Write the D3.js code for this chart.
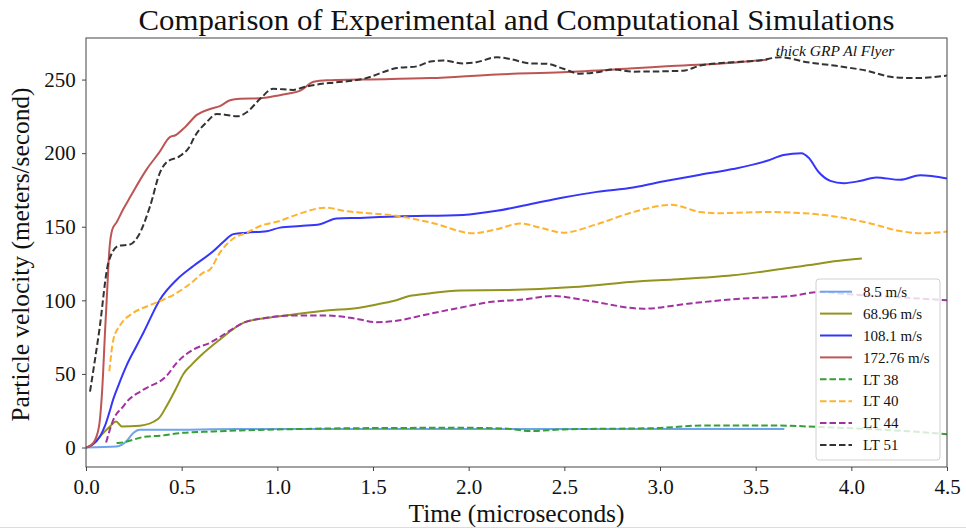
<!DOCTYPE html>
<html>
<head>
<meta charset="utf-8">
<script src="https://cdn.jsdelivr.net/npm/d3@7"></script>
<style>
html,body{margin:0;padding:0;background:#fff;}
svg{display:block;}
text{font-family:"Liberation Serif","DejaVu Serif",serif;fill:#111;}
</style>
</head>
<body>
<svg id="chart" width="966" height="529"></svg>
<script>
// ---------- data ----------
const seriesNames = ["8.5 m/s","68.96 m/s","108.1 m/s","172.76 m/s","LT 38","LT 40","LT 44","LT 51"];
const seriesColors = ["#6ea3ee","#93931f","#3535fb","#bd5555","#35a035","#ffb22e","#a232a2","#333333"];
const seriesDashed = [false,false,false,false,true,true,true,true];

const t_85   = [0, 0.16, 0.21, 0.247, 0.282, 0.4, 0.805, 1.5, 2.5, 3.65];
const v_85   = [0, 0.7, 4, 9.8, 12, 12, 12.5, 12.5, 12.5, 12.5];

const t_6896 = [0, 0.03, 0.073, 0.125, 0.157, 0.187, 0.282, 0.378, 0.42, 0.474, 0.509, 0.55, 0.596, 0.70, 0.822, 0.945, 1.084, 1.258, 1.43, 1.52, 1.606, 1.69, 1.78, 1.955, 2.2, 2.547, 2.896, 3.07, 3.38, 3.506, 3.68, 3.837, 3.91, 4.055];
const v_6896 = [0, 1.5, 7.5, 14.3, 17.7, 14.3, 14.8, 19.5, 27.9, 41, 50, 56, 62, 73.4, 84.7, 88.1, 90.4, 93.1, 95, 97.2, 99.5, 102.9, 104.5, 106.7, 107, 109, 113, 114.2, 117, 119, 122.2, 125, 126.5, 128.5];

const t_1081 = [0, 0.03, 0.073, 0.1, 0.12, 0.143, 0.169, 0.19, 0.213, 0.26, 0.30, 0.387, 0.474, 0.561, 0.666, 0.72, 0.77, 0.84, 0.945, 1.014, 1.12, 1.223, 1.31, 1.43, 1.62, 1.97, 2.147, 2.32, 2.495, 2.67, 2.86, 3.035, 3.21, 3.38, 3.56, 3.645, 3.74, 3.776, 3.83, 3.89, 3.96, 4.05, 4.13, 4.255, 4.36, 4.5];
const v_1081 = [0, 1.5, 7.5, 15, 23, 33, 42, 49, 56, 68, 78, 100.6, 114, 123.3, 133.5, 140, 145, 146, 147, 149.4, 150.5, 151.7, 155.6, 156, 157, 158, 160.8, 165.3, 169.9, 173.7, 176.7, 181.2, 185.3, 189.2, 194.8, 198.7, 200, 197, 187, 181.2, 179.6, 181.2, 183.5, 181.9, 185, 182.8];

const t_17276 = [0, 0.03, 0.047, 0.07, 0.085, 0.1, 0.11, 0.122, 0.137, 0.16, 0.195, 0.23, 0.317, 0.38, 0.44, 0.465, 0.52, 0.579, 0.648, 0.70, 0.753, 0.805, 0.91, 0.997, 1.06, 1.12, 1.19, 1.26, 1.43, 1.80, 2.147, 2.49, 2.84, 3.035, 3.38, 3.56];
const v_17276 = [0, 2, 5, 16, 40, 80, 105, 134, 148, 153, 162, 170, 189, 200, 211, 212, 218, 226, 230, 232, 236, 237, 237.3, 239, 240.5, 242.5, 248.5, 249.5, 250, 251, 253.5, 255, 257.5, 259, 261.5, 263.5];

const t_LT38 = [0.16, 0.178, 0.317, 0.387, 0.49, 0.666, 0.805, 1.084, 1.5, 1.955, 2.2, 2.32, 2.5, 2.98, 3.24, 3.59, 3.84, 4.1, 4.3, 4.5];
const v_LT38 = [3, 3.2, 7.5, 8, 9.8, 10.9, 11.6, 12.5, 13.2, 13.4, 12.8, 11.2, 12.3, 13.2, 15, 15, 13.9, 12.5, 11, 9];

const t_LT40 = [0.122, 0.143, 0.178, 0.247, 0.32, 0.387, 0.474, 0.561, 0.613, 0.648, 0.70, 0.77, 0.84, 0.91, 1.014, 1.084, 1.258, 1.345, 1.43, 1.624, 1.8, 2.025, 2.147, 2.27, 2.373, 2.495, 2.67, 2.86, 3.06, 3.21, 3.297, 3.56, 3.82, 4.08, 4.255, 4.36, 4.5];
const v_LT40 = [51.8, 73.4, 83, 91.5, 96, 99.5, 105, 113, 118.8, 121, 132.4, 142, 146, 150.5, 154, 157.4, 163, 160.8, 159.7, 157.4, 152.9, 145.6, 148.3, 152.2, 149.4, 146, 151.7, 160, 164.9, 160, 159.2, 160, 158.5, 152.9, 147.1, 145.6, 146.7];

const t_LT44 = [0.105, 0.143, 0.195, 0.213, 0.30, 0.42, 0.474, 0.561, 0.648, 0.735, 0.822, 0.945, 1.084, 1.258, 1.38, 1.43, 1.52, 1.606, 1.78, 1.955, 2.11, 2.286, 2.44, 2.635, 2.913, 3.157, 3.419, 3.68, 3.837, 4.0, 4.2, 4.5];
const v_LT44 = [3.4, 18.9, 28, 31, 39.3, 48.5, 57.5, 66.6, 71.1, 78, 84.7, 88.1, 89.7, 89.7, 88.1, 87, 85.1, 85.8, 90.4, 95, 98.8, 100.6, 102.9, 99.5, 94.3, 97.9, 101.1, 102.9, 105.6, 104, 102.5, 100];

const t_LT51 = [0.021, 0.07, 0.117, 0.169, 0.23, 0.273, 0.335, 0.387, 0.42, 0.49, 0.544, 0.561, 0.63, 0.683, 0.735, 0.788, 0.84, 0.91, 0.978, 1.084, 1.136, 1.223, 1.3, 1.45, 1.624, 1.73, 1.80, 1.868, 1.97, 2.04, 2.147, 2.216, 2.32, 2.41, 2.495, 2.58, 2.67, 2.757, 2.86, 3.12, 3.21, 3.38, 3.52, 3.63, 3.77, 3.91, 4.08, 4.22, 4.34, 4.5];
const v_LT51 = [38, 80, 125.6, 137, 138, 143.7, 164, 187, 193.7, 198, 205, 209.6, 221, 226.6, 226, 225, 227.8, 236.9, 243.7, 243, 244.8, 247, 248, 250.5, 257.8, 259, 262.3, 263, 261, 261.8, 265.2, 264, 261, 260.7, 257.3, 254, 255, 256.8, 255.4, 256, 259.5, 261.8, 263, 265.2, 261.8, 259.5, 256, 251.6, 251, 252.7];

const seriesT = [t_85, t_6896, t_1081, t_17276, t_LT38, t_LT40, t_LT44, t_LT51];
const seriesV = [v_85, v_6896, v_1081, v_17276, v_LT38, v_LT40, v_LT44, v_LT51];

const xTicks = [0, 0.5, 1.0, 1.5, 2.0, 2.5, 3.0, 3.5, 4.0, 4.5];
const yTicks = [0, 50, 100, 150, 200, 250];
const xDomain = [0, 4.5];
const yDomain = [-13.25, 278.25];

const titleText = "Comparison of Experimental and Computational Simulations";
const xLabelText = "Time (microseconds)";
const yLabelText = "Particle velocity (meters/second)";
const annotationText = "thick GRP Al Flyer";
const annotationPos = [3.605, 266];

// ---------- layout ----------
const svg = d3.select("#chart");
const L = 86, R = 947, T = 38, B = 467;
const x = d3.scaleLinear().domain(xDomain).range([L, R]);
const y = d3.scaleLinear().domain(yDomain).range([B, T]);

svg.append("defs").append("clipPath").attr("id","clip")
  .append("rect").attr("x",L).attr("y",T).attr("width",R-L).attr("height",B-T);

// lines
const line = d3.line().x(d => x(d[0])).y(d => y(d[1])).curve(d3.curveMonotoneX);
const gLines = svg.append("g").attr("clip-path","url(#clip)");
seriesNames.forEach((name, i) => {
  const pts = seriesT[i].map((t, j) => [t, seriesV[i][j]]);
  gLines.append("path")
    .attr("d", line(pts))
    .attr("fill","none")
    .attr("stroke", seriesColors[i])
    .attr("stroke-width", 2)
    .attr("stroke-dasharray", seriesDashed[i] ? "6.5,3" : null)
    .attr("stroke-linejoin","round");
});

// axes
const xAxis = d3.axisBottom(x).tickValues(xTicks).tickFormat(d3.format(".1f")).tickSize(4).tickSizeOuter(0);
const yAxis = d3.axisLeft(y).tickValues(yTicks).tickFormat(d3.format("d")).tickSize(4).tickSizeOuter(0);
const gx = svg.append("g").attr("transform",`translate(0,${B})`).call(xAxis);
const gy = svg.append("g").attr("transform",`translate(${L},0)`).call(yAxis);
[gx, gy].forEach(g => {
  g.select(".domain").remove();
  g.selectAll(".tick line").attr("stroke","#444").attr("stroke-width",1);
  g.selectAll(".tick text").attr("font-family","Liberation Serif, serif").attr("font-size",21).attr("fill","#222");
});
gx.selectAll(".tick text").attr("dy","0.95em");
gy.selectAll(".tick text").attr("dx","-0.15em");

// frame
svg.append("rect").attr("x",L).attr("y",T).attr("width",R-L).attr("height",B-T)
  .attr("fill","none").attr("stroke","#444").attr("stroke-width",1);

// title & labels
svg.append("text").attr("x",(L+R)/2).attr("y",30).attr("text-anchor","middle")
  .attr("font-size",29).attr("textLength",756).attr("lengthAdjust","spacingAndGlyphs").text(titleText);
svg.append("text").attr("x",(L+R)/2).attr("y",522).attr("text-anchor","middle")
  .attr("font-size",25).attr("textLength",216).attr("lengthAdjust","spacingAndGlyphs").text(xLabelText);
svg.append("text").attr("transform",`translate(29,${(T+B)/2 + 2}) rotate(-90)`).attr("text-anchor","middle")
  .attr("font-size",25).attr("textLength",334).attr("lengthAdjust","spacingAndGlyphs").text(yLabelText);

// annotation
svg.append("text").attr("x",x(annotationPos[0])).attr("y",y(annotationPos[1]))
  .attr("font-size",15.5).attr("font-style","italic").attr("fill","#333").text(annotationText);

// legend
const lg = svg.append("g");
const lgX = 816, lgY = 279, lgW = 124, lgH = 181;
lg.append("rect").attr("x",lgX).attr("y",lgY).attr("width",lgW).attr("height",lgH)
  .attr("rx",3).attr("fill","rgba(255,255,255,0.8)").attr("stroke","#d0d0d0").attr("stroke-width",1);
seriesNames.forEach((name, i) => {
  const cy = 291.7 + i * 21.9;
  lg.append("line").attr("x1",820).attr("x2",852).attr("y1",cy).attr("y2",cy)
    .attr("stroke",seriesColors[i]).attr("stroke-width",2)
    .attr("stroke-dasharray", seriesDashed[i] ? "6.5,3" : null);
  lg.append("text").attr("x",863).attr("y",cy).attr("dy","0.35em")
    .attr("font-size",15).attr("fill","#222").text(name);
});

// bottom screenshot edge
svg.append("line").attr("x1",0).attr("x2",966).attr("y1",527.5).attr("y2",527.5)
  .attr("stroke","#dcdcdc").attr("stroke-width",1);
</script>
</body>
</html>
